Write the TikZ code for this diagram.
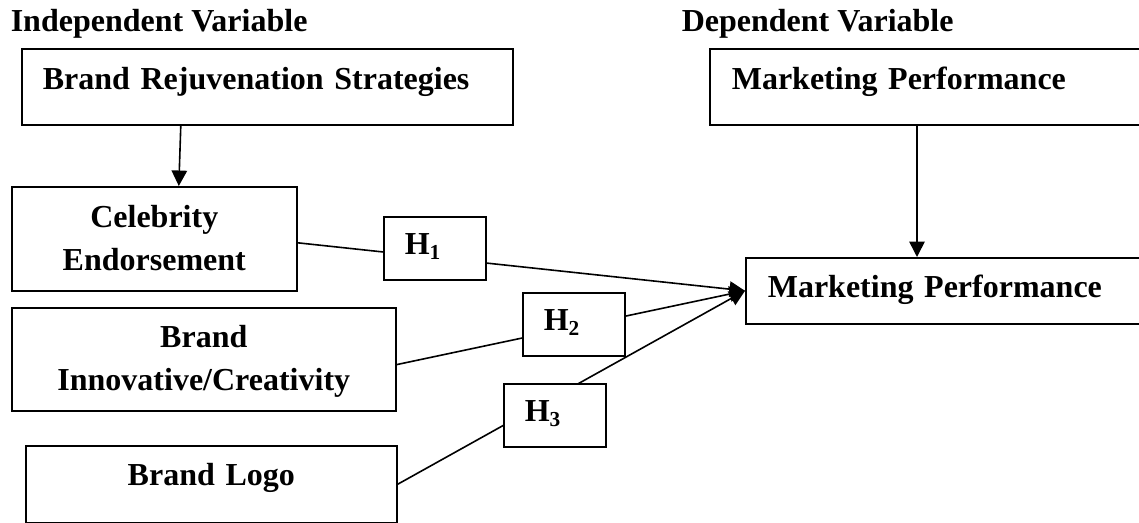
\documentclass[tikz,border=0pt]{standalone}
\usepackage{fontspec}
\setmainfont{Liberation Serif}
\usetikzlibrary{arrows.meta}

\tikzstyle{b} = [rectangle, draw=black, fill=white, inner ysep=0pt, anchor=north west, font=\bfseries\fontsize{12}{16.125}\selectfont]
\tikzstyle{h} = [b, inner xsep=7.875pt, text width=22.5pt, text height=14.25pt, text depth=9.375pt, align=left]
\tikzstyle{l} = [anchor=base west, inner sep=0pt, font=\bfseries\fontsize{12}{16.125}\selectfont]

\begin{document}
\begin{tikzpicture}[x=0.375pt,y=-0.375pt,->,>={Triangle[length=5.8pt,width=5.8pt]},semithick]
\clip (0,0) rectangle (1139,523);

    \node[l] (IV) at (10,32) {Independent Variable};
    \node[l] (DV) at (681,32) {Dependent Variable};

    \node[b, inner xsep=7.875pt, text width=168.375pt, text height=15.375pt, text depth=13.125pt, align=left] (BRS) at (21,48) {Brand Rejuvenation Strategies};
    \node[b, inner xsep=0pt, text width=106.875pt, text height=15.375pt, text depth=23.625pt, align=center] (CE) at (11,186) {Celebrity\\Endorsement};
    \node[b, inner xsep=0pt, text width=144pt, text height=15pt, text depth=23.625pt, align=center] (BIC) at (11,307) {Brand\\Innovative/Creativity};
    \node[b, inner xsep=0pt, text width=139.125pt, text height=15pt, text depth=13.875pt, align=center] (BL) at (25,445) {Brand Logo};

    \node[b, inner xsep=8.25pt, text width=156pt, text height=15.375pt, text depth=13.125pt, align=left] (MPt) at (709,48) {Marketing Performance};
    \node[b, inner xsep=8.25pt, text width=142.875pt, text height=15pt, text depth=9.75pt, align=left] (MPb) at (745,257) {Marketing Performance};

    \draw ([xshift=-32.44pt]BRS.south) -- ([xshift=9.19pt]CE.north);
    \draw ([xshift=78pt]MPt.south west) -- ([xshift=78pt]MPt.south west |- MPb.north);

    \path
    ([yshift=-1.5pt]CE.east) edge (MPb.west)
    ([yshift=-2pt]BIC.east) edge (MPb.west)
    (BL.east) edge (MPb.west);

    % hypotheses sit on top of the lines
    \node[h] (H1) at (383,216) {H\textsubscript{1}};
    \node[h] (H2) at (522,292) {H\textsubscript{2}};
    \node[h] (H3) at (503,383) {H\textsubscript{3}};

\end{tikzpicture}
\end{document}
